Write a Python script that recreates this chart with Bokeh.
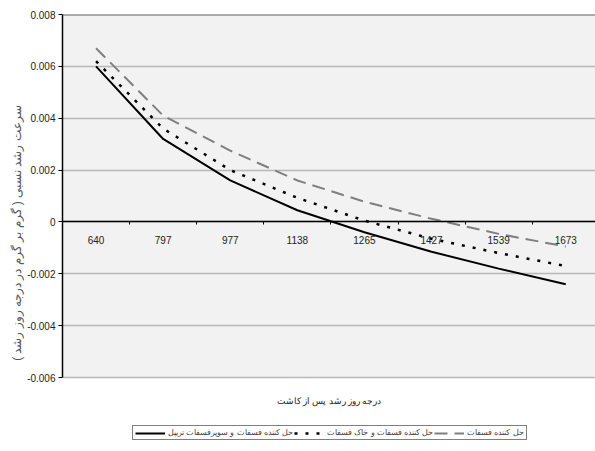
from bokeh.plotting import figure
from bokeh.models import (Range1d, LinearAxis, FixedTicker, NumeralTickFormatter, Title,
                          Legend, LegendItem, ColumnDataSource, BoxAnnotation, Span, Label)
from bokeh.embed import file_html
from bokeh.resources import INLINE

# ---- data ----
categories = ["640", "797", "977", "1138", "1265", "1427", "1539", "1673"]
triple_super = [0.0060, 0.0032, 0.0016, 0.00045, -0.0004, -0.00115, -0.0018, -0.0024]
rock_phosphate = [0.0062, 0.0036, 0.0020, 0.00093, 0.00005, -0.00065, -0.0012, -0.0017]
solubilizer_only = [0.0067, 0.0041, 0.00275, 0.0016, 0.00078, 0.00012, -0.00046, -0.00095]
y_ticks = [-0.006, -0.004, -0.002, 0.0, 0.002, 0.004, 0.006, 0.008]

label_triple = "حل کننده فسفات و سوپرفسفات تریپل"
label_rock = "حل کننده فسفات و خاک فسفات"
label_only = "حل کننده فسفات"
y_title = "سرعت رشد نسبی ( گرم بر گرم در درجه روز رشد )"
x_title = "درجه روز رشد پس از کاشت"

FONT = "Liberation Sans"

# ---- layout geometry (pixels) ----
W, H = 595, 451
LEFT, TOP = 62, 14
AXIS_BOTTOM_PX = 377          # pixel row of the lowest y tick
CAT_W = 67.1                  # pixel width of one category
units_per_px = (y_ticks[-1] - y_ticks[0]) / (AXIS_BOTTOM_PX - TOP)
y_start = y_ticks[-1] - (H - TOP) * units_per_px
x_start = 0.5
x_end = x_start + (W - LEFT) / CAT_W

x_pos = list(range(1, len(categories) + 1))
bounds = [i + 0.5 for i in x_pos]
src = ColumnDataSource(dict(x=x_pos, a=triple_super, b=rock_phosphate, c=solubilizer_only))

p = figure(width=W, height=H, output_backend="svg", toolbar_location=None,
           x_range=Range1d(x_start, x_end), y_range=Range1d(y_start, y_ticks[-1]),
           x_axis_type=None, min_border_left=LEFT, min_border_right=0,
           min_border_top=TOP, min_border_bottom=0)

p.background_fill_color = "white"
p.border_fill_color = "white"
p.outline_line_color = None

# grey plot area (between lowest and highest y tick)
p.add_layout(BoxAnnotation(bottom=y_ticks[0], top=y_ticks[-1], fill_color="#f2f2f2",
                           fill_alpha=1, line_color=None, level="image"))

# y axis (ticks and numbers)
yax = p.yaxis[0]
yax.bounds = (y_ticks[0], y_ticks[-1])
yax.ticker = FixedTicker(ticks=y_ticks)
yax.formatter = NumeralTickFormatter(format="0.[000]")
yax.axis_line_color = "black"
yax.axis_line_width = 1.5
yax.major_tick_out = 4
yax.major_tick_in = 0
yax.minor_tick_line_color = None
yax.major_tick_line_color = "black"
yax.major_label_standoff = 3
yax.major_label_text_font = FONT
yax.major_label_text_font_size = "10px"
yax.major_label_text_color = "#222222"

# y title as a side title, shifted upwards
p.add_layout(Title(text=y_title, align="center", offset=70, standoff=2,
                   text_font=FONT, text_font_size="12px", text_font_style="normal",
                   text_color="#555555"), "left")

p.ygrid.ticker = FixedTicker(ticks=y_ticks)
p.ygrid.grid_line_color = "#b8b8b8"
p.ygrid.grid_line_width = 1.5
p.xgrid.visible = False

# dark top border of the plot area
p.add_layout(Span(location=y_ticks[-1], dimension="width", line_color="#606060", line_width=2))

# x axis drawn at y = 0: labels at category centres, tick marks at category boundaries
ax_x = LinearAxis(fixed_location=0, ticker=FixedTicker(ticks=x_pos, minor_ticks=bounds),
                  major_label_overrides={x: c for x, c in zip(x_pos, categories)},
                  major_tick_out=0, major_tick_in=0,
                  minor_tick_out=3, minor_tick_in=0, minor_tick_line_color="black",
                  minor_tick_line_width=1,
                  axis_line_color="black", axis_line_width=1.5, major_label_standoff=11,
                  major_label_text_font=FONT, major_label_text_font_size="10px",
                  major_label_text_color="#222222")
p.add_layout(ax_x, "below")

# x title under the plot area
p.add_layout(Label(x=(x_start + x_end) / 2, y=y_ticks[-1] - (400 - TOP) * units_per_px,
                   text=x_title, text_font=FONT, text_font_size="8.5px",
                   text_color="#222222", text_align="center", text_baseline="middle"))

# lines
r_a = p.line("x", "a", source=src, line_color="black", line_width=2)
r_b = p.line("x", "b", source=src, line_color="black", line_width=2.5, line_dash="3 8")
r_c = p.line("x", "c", source=src, line_color="#7f7f7f", line_width=2, line_dash="13 7")

legend = Legend(items=[LegendItem(label=label_triple, renderers=[r_a]),
                       LegendItem(label=label_rock, renderers=[r_b]),
                       LegendItem(label=label_only, renderers=[r_c])],
                location=(70, 11), orientation="horizontal",
                border_line_color="black", border_line_width=1,
                background_fill_color="white", background_fill_alpha=1,
                label_text_font=FONT, label_text_font_size="8px",
                glyph_width=30, glyph_height=8, label_height=8, padding=2,
                spacing=1, margin=0, label_standoff=3)
p.add_layout(legend)

open("out.html", "w").write(file_html(p, INLINE))
